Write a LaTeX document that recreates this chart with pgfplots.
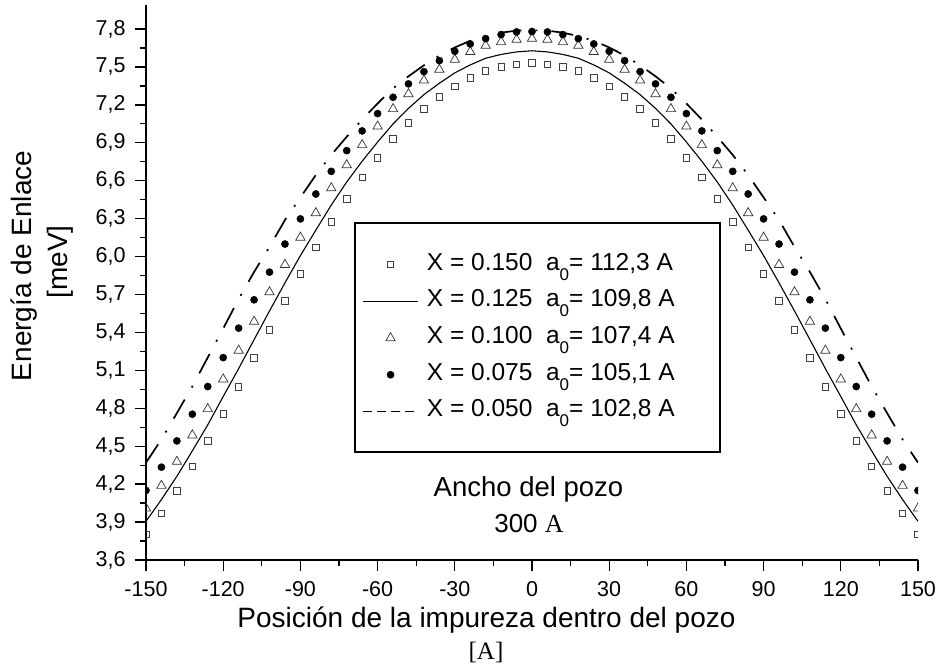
\documentclass[border=0pt]{standalone}
\usepackage{fontspec}
\setmainfont{Liberation Sans}
\newfontfamily\serifA{Liberation Serif}
\usepackage{pgfplots}
\pgfplotsset{compat=1.18}
\usepackage{pgfplotstable}

% Binding energy vs. impurity position (well width 300 A)
% columns: x, X=0.150, X=0.125, X=0.100, X=0.075, X=0.050
\pgfplotstableread{
x     sq     ln     tri    dot    dash
-150  3.803  3.906  4.009  4.150  4.370
-144  3.967  4.078  4.188  4.334  4.554
-138  4.146  4.262  4.378  4.542  4.762
-132  4.339  4.463  4.587  4.753  4.973
-126  4.542  4.669  4.795  4.972  5.202
-120  4.756  4.893  5.030  5.201  5.431
-114  4.970  5.114  5.257  5.434  5.664
-108  5.199  5.343  5.486  5.658  5.878
-102  5.421  5.570  5.719  5.877  6.077
-96   5.648  5.792  5.935  6.099  6.289
-90   5.864  6.008  6.151  6.298  6.468
-84   6.072  6.209  6.345  6.495  6.645
-78   6.273  6.408  6.542  6.674  6.804
-72   6.455  6.590  6.724  6.838  6.948
-66   6.624  6.754  6.883  6.994  7.084
-60   6.782  6.906  7.030  7.131  7.211
-54   6.930  7.049  7.168  7.260  7.330
-48   7.057  7.172  7.286  7.366  7.426
-42   7.168  7.281  7.394  7.463  7.513
-36   7.263  7.371  7.479  7.550  7.590
-30   7.347  7.453  7.558  7.624  7.654
-24   7.413  7.516  7.619  7.682  7.707
-18   7.469  7.569  7.669  7.724  7.744
-12   7.500  7.599  7.698  7.756  7.771
-6    7.521  7.619  7.716  7.777  7.787
0     7.532  7.628  7.724  7.780  7.790
6     7.521  7.619  7.716  7.777  7.787
12    7.500  7.599  7.698  7.756  7.771
18    7.469  7.569  7.669  7.724  7.744
24    7.413  7.516  7.619  7.682  7.707
30    7.347  7.453  7.558  7.624  7.654
36    7.263  7.371  7.479  7.550  7.590
42    7.168  7.281  7.394  7.463  7.513
48    7.057  7.172  7.286  7.366  7.426
54    6.930  7.049  7.168  7.260  7.330
60    6.782  6.906  7.030  7.131  7.211
66    6.624  6.754  6.883  6.994  7.084
72    6.455  6.590  6.724  6.838  6.948
78    6.273  6.408  6.542  6.674  6.804
84    6.072  6.209  6.345  6.495  6.645
90    5.864  6.008  6.151  6.298  6.468
96    5.648  5.792  5.935  6.099  6.289
102   5.421  5.570  5.719  5.877  6.077
108   5.199  5.343  5.486  5.658  5.878
114   4.970  5.114  5.257  5.434  5.664
120   4.756  4.893  5.030  5.201  5.431
126   4.542  4.669  4.795  4.972  5.202
132   4.339  4.463  4.587  4.753  4.973
138   4.146  4.262  4.378  4.542  4.762
144   3.967  4.078  4.188  4.334  4.554
150   3.803  3.906  4.009  4.150  4.370
}\energias

% lowered subscript zero as used in the legend entries
\newcommand{\subzero}{\raisebox{-10pt}{\fontsize{17}{17}\selectfont 0}}

\begin{document}
\begin{tikzpicture}[x=1pt,y=1pt]
\path[use as bounding box] (-146,-109) rectangle (792,560);
\begin{axis}[
  at={(0pt,0pt)}, anchor=south west,
  scale only axis, width=772pt, height=555pt,
  xmin=-150, xmax=150, ymin=3.6, ymax=7.99,
  axis x line*=bottom, axis y line*=left,
  axis line style={line width=1.6pt},
  tick align=outside,
  major tick length=11pt, minor tick length=6pt,
  tick style={black, line width=1.3pt},
  xtick={-150,-120,-90,-60,-30,0,30,60,90,120,150},
  ytick={3.6,3.9,4.2,4.5,4.8,5.1,5.4,5.7,6.0,6.3,6.6,6.9,7.2,7.5,7.8},
  minor x tick num=1, minor y tick num=1,
  /pgf/number format/assume math mode=true,
  tick label style={font=\fontsize{21.5}{24}\selectfont},
  yticklabel style={xshift=-6pt, /pgf/number format/.cd, fixed, fixed zerofill, precision=1, use comma},
  xticklabel style={yshift=-7pt, /pgf/number format/.cd, fixed, precision=0},
  clip marker paths=true,
  legend cell align=left,
  legend style={draw=none, fill=none, at={(0.2798,0.5532)}, anchor=north west,
    inner sep=0pt, row sep=13.7pt, column sep=8pt,
    font=\fontsize{24.5}{28}\selectfont,
    nodes={inner sep=0pt, text height=17pt, text depth=6pt}},
  legend image code/.code={\draw[mark repeat=2,mark phase=2,#1]
    plot coordinates {(0pt,0pt) (27.5pt,0pt) (55pt,0pt)};},
]
\addplot[only marks, mark=square, mark size=3.2pt,
  mark options={draw=black!75, line width=0.8pt}]
  table[x=x, y=sq]{\energias};
\addlegendentry{X = 0.150\ \ a\subzero= 112,3 A}
\addplot[black, line width=1.1pt, mark=none]
  table[x=x, y=ln]{\energias};
\addlegendentry{X = 0.125\ \ a\subzero= 109,8 A}
\addplot[only marks, mark=triangle, mark size=5.4pt,
  mark options={draw=black!80, line width=0.7pt}]
  table[x=x, y=tri]{\energias};
\addlegendentry{X = 0.100\ \ a\subzero= 107,4 A}
\addplot[only marks, mark=*, mark size=3.6pt, black]
  table[x=x, y=dot]{\energias};
\addlegendentry{X = 0.075\ \ a\subzero= 105,1 A}
\addplot[black, line width=1.7pt, mark=none,
  dash pattern=on 22pt off 14pt on 2pt off 14pt,
  legend image post style={dash pattern=on 9pt off 5pt}]
  table[x=x, y=dash]{\energias};
\addlegendentry{X = 0.050\ \ a\subzero= 102,8 A}
\end{axis}
% legend frame
\draw[line width=1.6pt] (209,108) rectangle (574,337);
% annotations and axis titles
\node[anchor=base, font=\fontsize{27.5}{30}\selectfont] at (382.5,63) {Ancho del pozo};
\node[anchor=base, font=\fontsize{26}{30}\selectfont] at (383,27) {300 {\serifA A}};
\node[anchor=base, font=\fontsize{28}{30}\selectfont] at (340.5,-68) {Posición de la impureza dentro del pozo};
\node[anchor=base, font=\serifA\fontsize{25}{28}\selectfont] at (340,-100) {[A]};
\node[anchor=base, rotate=90, font=\fontsize{28}{30}\selectfont] at (-114,294) {Energía de Enlace};
\node[anchor=base, rotate=90, font=\fontsize{28}{30}\selectfont] at (-78,298) {[meV]};
\end{tikzpicture}
\end{document}
